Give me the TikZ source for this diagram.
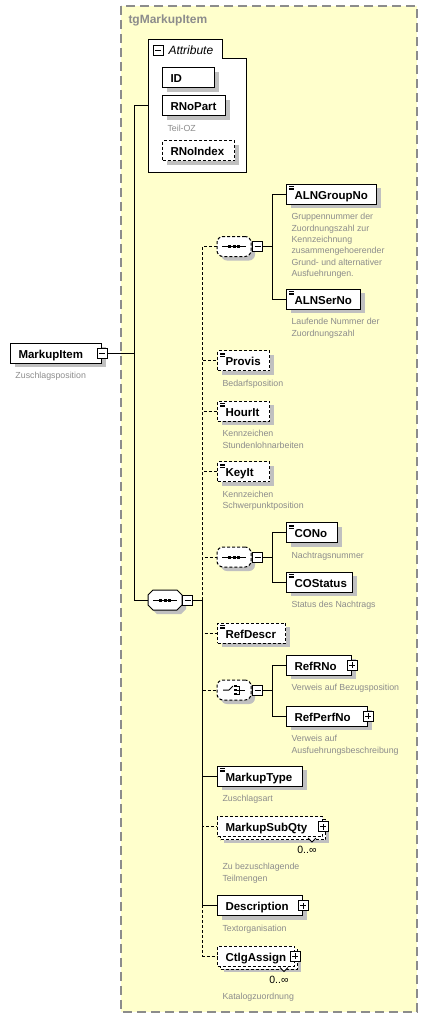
\documentclass[tikz,border=0pt]{standalone}
\usepackage{fontspec}
\setmainfont{Liberation Sans}
\usetikzlibrary{positioning,shadows,calc}

\definecolor{groupbg}{HTML}{FFFFCC}
\definecolor{framegray}{HTML}{8C8C8C}
\definecolor{docgray}{HTML}{8C8C8C}
\definecolor{shadowgray}{HTML}{C0C0C0}

\tikzset{
  elem/.style={draw, fill=white, anchor=west, align=left, text width=#1,
    inner xsep=8pt, inner ysep=0pt, minimum height=20pt,
    text height=11pt, text depth=1pt,
    font=\bfseries\fontsize{11.5}{14}\selectfont\hyphenpenalty10000\relax},
  boxshadow/.style={drop shadow={shadow xshift=4pt, shadow yshift=-4pt,
    fill=shadowgray, draw=none, opacity=1}},
  multi/.style={drop shadow={shadow xshift=6pt, shadow yshift=-6pt,
    fill=shadowgray, draw=none, opacity=1},
    copy shadow={shadow xshift=3pt, shadow yshift=-3pt}},
  opt/.style={dash pattern=on 3pt off 2pt},
  docicon/.style={path picture={
    \foreach \dy in {2.5,4,5.5}
      \draw[solid, line width=.6pt] ([shift={(2.5,\dy)}]path picture bounding box.north west) -- ++(5,0);}},
  doc/.style={font=\fontsize{8.8}{11.3}\selectfont, text=docgray, align=left, inner sep=0pt},
  occ/.style={font=\fontsize{10.5}{12}\selectfont, inner sep=0pt},
  btn/.style={draw, solid, fill=white, minimum size=10pt, inner sep=0pt, outer sep=0pt},
  minusbtn/.style={btn, path picture={
    \draw ([xshift=-3pt]path picture bounding box.center) -- ([xshift=3pt]path picture bounding box.center);}},
  plusbtn/.style={btn, path picture={
    \draw ([xshift=-3pt]path picture bounding box.center) -- ([xshift=3pt]path picture bounding box.center);
    \draw ([yshift=-3pt]path picture bounding box.center) -- ([yshift=3pt]path picture bounding box.center);}},
  seqmain/.style={minimum width=34pt, minimum height=20pt, inner sep=0pt},
  seqopt/.style={draw, opt, fill=white, rounded corners=6pt, minimum width=34pt,
    minimum height=20pt, inner sep=0pt, boxshadow},
  seqsym/.style={path picture={
    \draw[solid, sharp corners] ([xshift=-12pt]path picture bounding box.center) -- ([xshift=12pt]path picture bounding box.center);
    \foreach \dx in {-4.5,0,4.5}
      \fill[black, sharp corners] ([shift={(\dx,0)}]path picture bounding box.center) +(-1.5,-1.5) rectangle +(1.5,1.5);}},
  choicesym/.style={path picture={
    \draw[solid, sharp corners] ([xshift=-11pt]path picture bounding box.center) -- ([xshift=-5pt]path picture bounding box.center) -- ([shift={(-1,-4)}]path picture bounding box.center);
    \foreach \dy in {-4,0,4}
      \fill[black, sharp corners] ([shift={(0,\dy)}]path picture bounding box.center) +(0,-1.25) rectangle +(2.5,1.25);
    \draw[solid, sharp corners] ([shift={(2.5,-4)}]path picture bounding box.center) -- ++(3,0) -- ++(0,8) -- ++(-3,0);
    \draw[solid, sharp corners] ([xshift=2.5pt]path picture bounding box.center) -- ++(8,0);}}
}

\begin{document}
\begin{tikzpicture}[x=1pt, y=-1pt, line width=1pt]
\useasboundingbox (0,0) rectangle (428,1020);

% group frame
\draw[framegray, line width=1.2pt, dash pattern=on 9pt off 5pt, fill=groupbg] (121,6) rectangle (417,1012);
\node[anchor=west, inner sep=0pt, text=framegray, font=\bfseries\fontsize{12}{14}\selectfont] (grpTitle) at (128,20) {tgMarkupItem};

% attributes
\node[minimum width=98pt, minimum height=133pt, inner sep=0pt, outer sep=0pt] (attr) at (197,105.5) {};
\draw[fill=white] (attr.north west) -- ++(74,0) |- ([yshift=-19pt]attr.north east) -- (attr.south east) -- (attr.south west) -- cycle;
\node[minusbtn] (attrBtn) at (158,50) {};
\node[inner sep=0pt, font=\itshape\fontsize{12}{14}\selectfont, right=5pt of attrBtn] (attrLbl) {Attribute};
\node[elem=36pt, boxshadow] (id) at (162,77.5) {ID};
\node[elem=47pt, boxshadow] (rNoPart) at (162,105.5) {RNoPart};
\node[doc, below right=8.5pt and 5pt of rNoPart.south west] (rNoPartDoc) {Teil-OZ};
\node[elem=56pt, opt, boxshadow] (rNoIndex) at (162,150.5) {RNoIndex};

% root element
\node[elem=75pt, boxshadow] (markupItem) at (10,353) {MarkupItem};
\node[minusbtn] (markupItemBtn) at (markupItem.east) {};
\node[doc, below right=8.5pt and 5pt of markupItem.south west] (markupItemDoc) {Zuschlagsposition};

% main sequence
\draw[fill=white, boxshadow] (153,590) -- (177,590) -- (182,595) -- (182,605) -- (177,610) -- (153,610) -- (148,605) -- (148,595) -- cycle;
\node[seqmain, seqsym] (mainSeq) at (165,600) {};
\node[minusbtn, right=0pt of mainSeq] (mainSeqBtn) {};

% ALN sequence
\node[seqopt, seqsym] (alnSeq) at (234,246.5) {};
\node[minusbtn, right=1pt of alnSeq] (alnSeqBtn) {};
\node[elem=74pt, docicon, boxshadow] (alnGroupNo) at (286,194) {ALNGroupNo};
\node[doc, below right=8.5pt and 5pt of alnGroupNo.south west] (alnGroupNoDoc) {Gruppennummer der\\Zuordnungszahl zur\\Kennzeichnung\\zusammengehoerender\\Grund- und alternativer\\Ausfuehrungen.};
\node[elem=58pt, docicon, boxshadow] (alnSerNo) at (286,299) {ALNSerNo};
\node[doc, below right=8.5pt and 5pt of alnSerNo.south west] (alnSerNoDoc) {Laufende Nummer der\\Zuordnungszahl};

\node[elem=36pt, opt, docicon, boxshadow] (provis) at (217,360.5) {Provis};
\node[doc, below right=8.5pt and 5pt of provis.south west] (provisDoc) {Bedarfsposition};
\node[elem=36pt, opt, docicon, boxshadow] (hourIt) at (217,411) {HourIt};
\node[doc, below right=8.5pt and 5pt of hourIt.south west] (hourItDoc) {Kennzeichen\\Stundenlohnarbeiten};
\node[elem=36pt, opt, docicon, boxshadow] (keyIt) at (217,471.5) {KeyIt};
\node[doc, below right=8.5pt and 5pt of keyIt.south west] (keyItDoc) {Kennzeichen\\Schwerpunktposition};

% CO sequence
\node[seqopt, seqsym] (coSeq) at (234,557) {};
\node[minusbtn, right=1pt of coSeq] (coSeqBtn) {};
\node[elem=35pt, docicon, boxshadow] (coNo) at (286,532.5) {CONo};
\node[doc, below right=8.5pt and 5pt of coNo.south west] (coNoDoc) {Nachtragsnummer};
\node[elem=50pt, docicon, boxshadow] (coStatus) at (286,582) {COStatus};
\node[doc, below right=8.5pt and 5pt of coStatus.south west] (coStatusDoc) {Status des Nachtrags};

\node[elem=52pt, opt, docicon, boxshadow] (refDescr) at (217,633) {RefDescr};

% reference choice
\node[seqopt, choicesym] (refChoice) at (234,690) {};
\node[minusbtn, right=1pt of refChoice] (refChoiceBtn) {};
\node[elem=49pt, boxshadow] (refRNo) at (286,665) {RefRNo};
\node[plusbtn] (refRNoBtn) at (refRNo.east) {};
\node[doc, below right=8.5pt and 5pt of refRNo.south west] (refRNoDoc) {Verweis auf Bezugsposition};
\node[elem=65pt, boxshadow] (refPerfNo) at (286,716) {RefPerfNo};
\node[plusbtn] (refPerfNoBtn) at (refPerfNo.east) {};
\node[doc, below right=8.5pt and 5pt of refPerfNo.south west] (refPerfNoDoc) {Verweis auf\\Ausfuehrungsbeschreibung};

\node[elem=69pt, docicon, boxshadow] (markupType) at (217,776) {MarkupType};
\node[doc, below right=8.5pt and 5pt of markupType.south west] (markupTypeDoc) {Zuschlagsart};

\node[elem=89pt, opt, multi] (markupSubQty) at (217,826.5) {MarkupSubQty};
\node[plusbtn] (markupSubQtyBtn) at (markupSubQty.east) {};
\draw[line width=.8pt, fill=white] ([shift={(-15,1)}]markupSubQty.south east) -- ++(4,4) -- ++(4,-4);
\node[occ, below left=9pt and 6pt of markupSubQty.south east] (markupSubQtyOcc) {0..∞};
\node[doc, below right=26pt and 5pt of markupSubQty.south west] (markupSubQtyDoc) {Zu bezuschlagende\\Teilmengen};

\node[elem=69pt, boxshadow] (description) at (217,905.5) {Description};
\node[plusbtn] (descriptionBtn) at (description.east) {};
\node[doc, below right=8.5pt and 5pt of description.south west] (descriptionDoc) {Textorganisation};

\node[elem=61pt, opt, multi] (ctlgAssign) at (217,956) {CtlgAssign};
\node[plusbtn] (ctlgAssignBtn) at (ctlgAssign.east) {};
\draw[line width=.8pt, fill=white] ([shift={(-15,1)}]ctlgAssign.south east) -- ++(4,4) -- ++(4,-4);
\node[occ, below left=9pt and 6pt of ctlgAssign.south east] (ctlgAssignOcc) {0..∞};
\node[doc, below right=26pt and 5pt of ctlgAssign.south west] (ctlgAssignDoc) {Katalogzuordnung};

% connectors
\coordinate (t0) at ($(markupItemBtn.east)+(27,0)$);
\draw (markupItemBtn.east) -- (t0);
\draw (attr.west) -| (t0 |- mainSeq.west) -- (mainSeq.west);

\coordinate (j2) at ($(mainSeqBtn.east)+(10,0)$);
\draw (mainSeqBtn.east) -- (j2);
\foreach \n in {alnSeq, provis, hourIt, keyIt, coSeq, refDescr, refChoice, markupSubQty, ctlgAssign}
  \draw[opt] (j2) |- (\n.west);
\foreach \n in {markupType, description}
  \draw (j2) |- (\n.west);

\coordinate (k1) at ($(alnSeqBtn.east)+(10,0)$);
\draw (alnSeqBtn.east) -- (k1) |- (alnGroupNo.west);
\draw (k1) |- (alnSerNo.west);
\coordinate (k2) at ($(coSeqBtn.east)+(10,0)$);
\draw (coSeqBtn.east) -- (k2) |- (coNo.west);
\draw (k2) |- (coStatus.west);
\coordinate (k3) at ($(refChoiceBtn.east)+(10,0)$);
\draw (refChoiceBtn.east) -- (k3) |- (refRNo.west);
\draw (k3) |- (refPerfNo.west);
\end{tikzpicture}
\end{document}
